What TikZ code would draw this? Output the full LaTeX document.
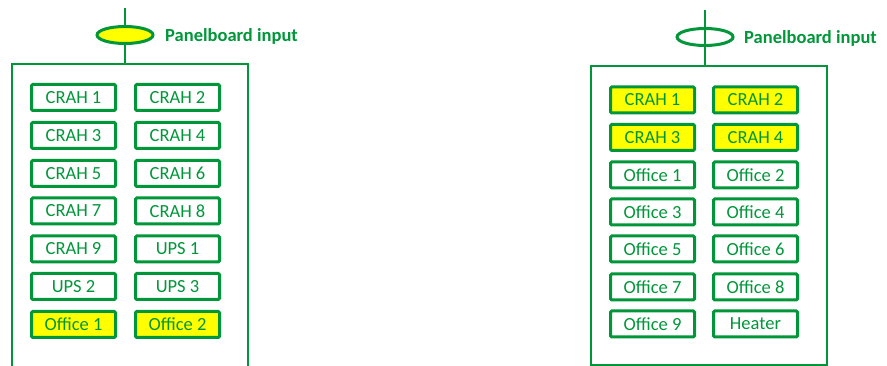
\documentclass[tikz,border=0pt]{standalone}
\usepackage{fontspec}
\setmainfont{Carlito}
\usetikzlibrary{shapes.geometric}
\definecolor{pgreen}{RGB}{0,150,57}
\definecolor{pyellow}{RGB}{255,255,0}
\tikzset{
  load/.style={draw=pgreen, line width=3pt, rounded corners=1.2pt, minimum width=84pt, minimum height=26pt, inner sep=0pt, text=pgreen, font=\fontsize{18.5}{22}\selectfont},
  hot/.style={load, fill=pyellow},
  inlet/.style={ellipse, draw=pgreen, line width=3pt, minimum width=56pt, minimum height=17pt, inner sep=0pt},
  lbl/.style={anchor=west, text=pgreen, font=\fontsize{18.5}{22}\selectfont\bfseries, inner sep=0pt},
  wire/.style={draw=pgreen, line width=2.5pt},
  panel/.style={draw=pgreen, line width=2.5pt}
}
\begin{document}
\begin{tikzpicture}[x=1pt,y=-1pt]
\useasboundingbox (0,0) rectangle (887,366);
% left panel
\draw[panel] (12,372) -- (12,64) -- (248,64) -- (248,372);
\coordinate (ltop) at (125,8);
\coordinate (lpan) at (125,64);
\draw[wire] (ltop) -- (lpan);
\node[inlet, fill=pyellow] (lin) at (125,35) {};
\node[lbl] (llab) at (165,36) {Panelboard input};
\foreach \n/\t/\x/\y/\s in {
  a1/CRAH 1/73.5/97.5/load, a2/CRAH 2/177.5/97.5/load,
  a3/CRAH 3/73.5/135.5/load, a4/CRAH 4/177.5/135.5/load,
  a5/CRAH 5/73.5/173.5/load, a6/CRAH 6/177.5/173.5/load,
  a7/CRAH 7/73.5/211/load, a8/CRAH 8/177.5/211/load,
  a9/CRAH 9/73.5/249/load, a10/UPS 1/177.5/249/load,
  a11/UPS 2/73.5/286.5/load, a12/UPS 3/177.5/286.5/load,
  a13/Office 1/73.5/324.5/hot, a14/Office 2/177.5/324.5/hot}
  {\node[\s] (\n) at (\x,\y) {\t};}
% right panel
\draw[panel] (591,66) rectangle (827,365);
\coordinate (rtop) at (705,10);
\coordinate (rpan) at (705,66);
\draw[wire] (rtop) -- (rpan);
\node[inlet] (rin) at (705,37) {};
\node[lbl] (rlab) at (744,38) {Panelboard input};
\foreach \n/\t/\x/\y/\s in {
  b1/CRAH 1/652.5/100/hot, b2/CRAH 2/755.5/100/hot,
  b3/CRAH 3/652.5/137.5/hot, b4/CRAH 4/755.5/137.5/hot,
  b5/Office 1/652.5/175/load, b6/Office 2/755.5/175/load,
  b7/Office 3/652.5/212/load, b8/Office 4/755.5/212/load,
  b9/Office 5/652.5/249/load, b10/Office 6/755.5/249/load,
  b11/Office 7/652.5/287/load, b12/Office 8/755.5/287/load,
  b13/Office 9/652.5/324/load, b14/Heater/755.5/324/load}
  {\node[\s] (\n) at (\x,\y) {\t};}
\end{tikzpicture}
\end{document}
